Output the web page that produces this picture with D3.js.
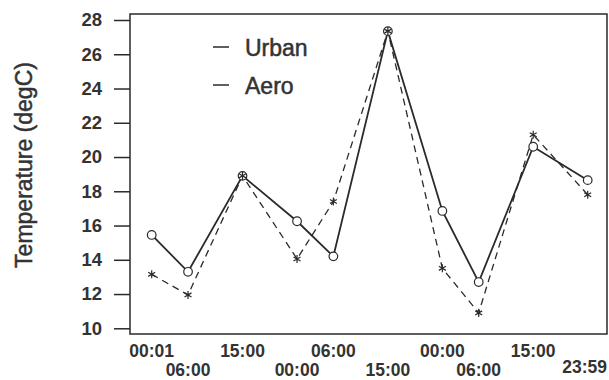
<!DOCTYPE html>
<html>
<head>
<meta charset="utf-8">
<script src="https://cdn.jsdelivr.net/npm/d3@7"></script>
<style>
  body { margin: 0; background: #fff; }
  text { font-family: "Liberation Sans", Arial, sans-serif; fill: #333; }
</style>
</head>
<body>
<div id="chart"></div>
<script>
// hours since start of record, and the printed time labels
var hours = [0, 6, 15, 24, 30, 39, 48, 54, 63, 72];
var timeLabels = ["00:01", "06:00", "15:00", "00:00", "06:00", "15:00", "00:00", "06:00", "15:00", "23:59"];
var urban = [15.45, 13.3, 18.9, 16.25, 14.2, 27.35, 16.85, 12.7, 20.6, 18.65];
var aero = [13.15, 11.95, 18.9, 14.05, 17.4, 27.35, 13.5, 10.9, 21.3, 17.8];
var yTicks = [10, 12, 14, 16, 18, 20, 22, 24, 26, 28];
var seriesNames = ["Urban", "Aero"];

(function() {
    var width = 609,
        height = 380;

    var box = {left: 130, top: 14, right: 607, bottom: 334};
    var ink = "#2a2a2a";

    var svg = d3.select("#chart")
        .append("svg")
        .attr("width", width)
        .attr("height", height);

    var x = d3.scaleLinear().domain([0, 72]).range([151.7, 587.7]);
    var y = d3.scaleLinear().domain([10, 28]).range([328.3, 20]);

    // frame
    svg.append("rect")
        .attr("x", box.left).attr("y", box.top)
        .attr("width", box.right - box.left).attr("height", box.bottom - box.top)
        .attr("fill", "none").attr("stroke", ink).attr("stroke-width", 1.5);

    // y axis
    var yAxis = d3.axisLeft(y).tickValues(yTicks).tickSize(16).tickPadding(12);
    var gy = svg.append("g")
        .attr("transform", "translate(" + box.left + ",0)")
        .call(yAxis);
    gy.select(".domain").remove();
    gy.selectAll("line").attr("stroke", ink).attr("stroke-width", 1.5);
    gy.selectAll("text")
        .attr("fill", "#333")
        .style("font-size", "18.5px")
        .style("font-weight", "bold")
        .style("font-family", "Liberation Sans, Arial, sans-serif");

    // x labels, staggered in two rows
    var xl = svg.selectAll(".xlab")
        .data(timeLabels)
        .enter().append("text")
        .attr("class", "xlab")
        .attr("x", function(d, i) { return x(hours[i]) })
        .attr("y", function(d, i) {
            if (i == timeLabels.length - 1) return 373;
            return i % 2 == 0 ? 357 : 376;
        })
        .attr("text-anchor", "middle")
        .style("font-size", "17.5px")
        .style("font-weight", "bold")
        .text(function(d) { return d });

    // keep the last label inside the window
    xl.each(function() {
        var w = this.getComputedTextLength();
        var cx = +d3.select(this).attr("x");
        if (cx + w / 2 > width - 2) d3.select(this).attr("x", width - 2 - w / 2);
    });

    // y title
    svg.append("text")
        .attr("transform", "translate(32," + 165 + ") rotate(-90)")
        .attr("text-anchor", "middle")
        .style("font-size", "23px")
        .attr("stroke", "#333")
        .attr("stroke-width", 0.5)
        .text("Temperature (degC)");

    var line = d3.line()
        .x(function(d, i) { return x(hours[i]) })
        .y(function(d) { return y(d) });

    svg.append("path")
        .datum(urban)
        .attr("d", line)
        .attr("fill", "none")
        .attr("stroke", ink)
        .attr("stroke-width", 1.8);

    svg.append("path")
        .datum(aero)
        .attr("d", line)
        .attr("fill", "none")
        .attr("stroke", ink)
        .attr("stroke-width", 1.3)
        .attr("stroke-dasharray", "7,5");

    svg.selectAll(".circ")
        .data(urban)
        .enter().append("circle")
        .attr("class", "circ")
        .attr("cx", function(d, i) { return x(hours[i]) })
        .attr("cy", function(d) { return y(d) })
        .attr("r", 4.3)
        .attr("fill", "#fff")
        .attr("stroke", ink)
        .attr("stroke-width", 1.2);

    var star = d3.symbol().type(d3.symbolAsterisk).size(45);
    svg.selectAll(".star")
        .data(aero)
        .enter().append("path")
        .attr("class", "star")
        .attr("transform", function(d, i) {
            return "translate(" + x(hours[i]) + "," + y(d) + ")";
        })
        .attr("d", star)
        .attr("fill", "none")
        .attr("stroke", ink)
        .attr("stroke-width", 1.2);

    // legend
    var legend = svg.selectAll(".legend")
        .data(seriesNames)
        .enter().append("g")
        .attr("class", "legend")
        .attr("transform", function(d, i) { return "translate(213," + (47 + i * 38) + ")" });

    legend.append("line")
        .attr("x1", 0).attr("x2", 16)
        .attr("stroke", ink).attr("stroke-width", 1.5);

    legend.append("text")
        .attr("x", 32)
        .attr("y", 9)
        .style("font-size", "23px")
        .attr("stroke", "#333")
        .attr("stroke-width", 0.5)
        .text(function(d) { return d });
})();
</script>
</body>
</html>
